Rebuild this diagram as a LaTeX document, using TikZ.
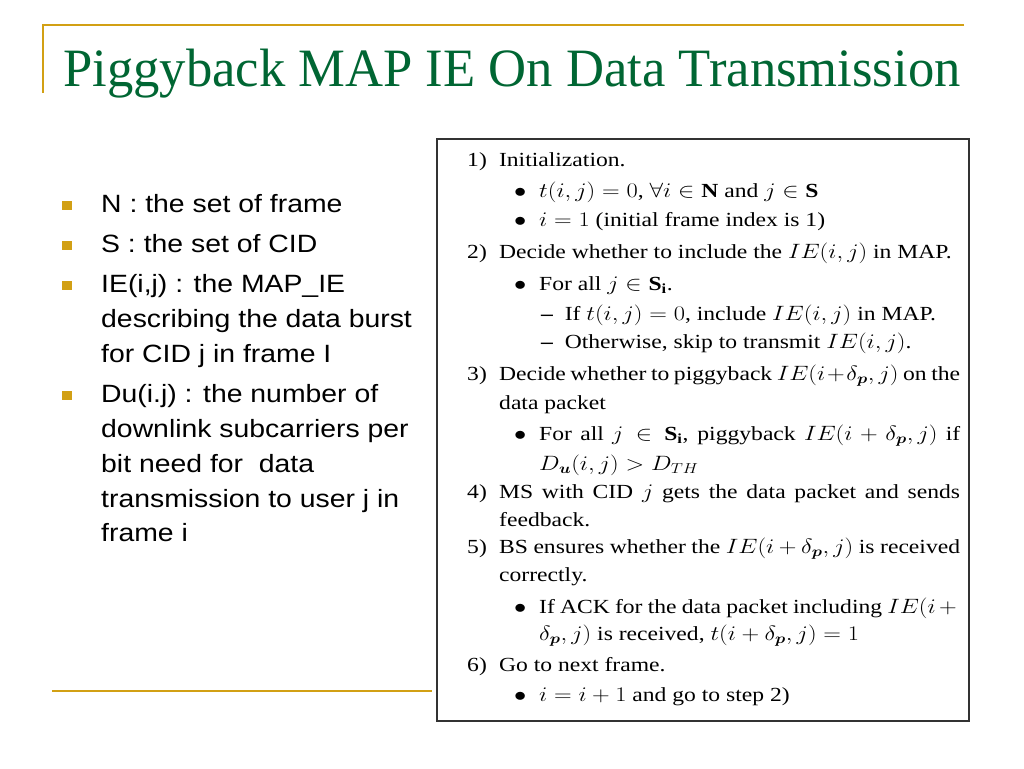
\documentclass[tikz,border=0pt]{standalone}
\usepackage{amsmath}
\usepackage{amssymb}
\usepackage{fontspec}
\usepackage{graphicx}
\setmainfont{Liberation Serif}
\newfontfamily\titlefont[FakeStretch=0.975]{Liberation Serif}
\newfontfamily\bulletfont[FakeStretch=1.135]{Liberation Sans}
\usepackage{tikz}
\usetikzlibrary{positioning}

\definecolor{gold}{RGB}{210,160,20}
\definecolor{titlegreen}{RGB}{0,102,51}
\definecolor{boxgray}{RGB}{50,50,50}

\newcommand{\scanline}[1]{\scalebox{1.18}[1]{#1}}
\newcommand{\numlab}[1]{\makebox[27pt][l]{#1}}
\newcommand{\bul}{\makebox[21.2pt][l]{$\bullet$}}
\newcommand{\dsh}{\makebox[20pt][l]{\textbf{--}}}
\newcommand{\fillto}[2]{\makebox[#1][s]{#2}}

\tikzset{
	goldrule/.style={draw=gold, line width=2pt},
	sq/.style={fill=gold, minimum size=9.5pt, inner sep=0pt},
	bulletline/.style={anchor=base west, inner sep=0pt, font=\bulletfont\fontsize{25}{30}\selectfont},
	boxline/.style={anchor=base west, inner sep=0pt, font=\fontsize{20}{24}\selectfont},
}

\begin{document}
\begin{tikzpicture}[x=1pt,y=-1pt]
	\useasboundingbox (0,0) rectangle (1024,768);
	\fill[white] (0,0) rectangle (1024,768);
	
	% frame rules
	\coordinate (tl) at (43,25.5);
	\coordinate (tr) at (964,25.5);
	\coordinate (tb) at (43,93);
	\coordinate (bl) at (52,691);
	\coordinate (br) at (432,691);
	\draw[goldrule] (tr) -- (tl) -- (tb);
	\draw[goldrule] (bl) -- (br);
	
	\node[anchor=base west, inner sep=0pt, text=titlegreen, font=\titlefont\fontsize{54}{60}\selectfont] (title) at (63,86.7) {Piggyback MAP IE On Data Transmission};
	
	% left bullets
	\node[sq] (s1) at (67,205.7) {};
	\node[sq] (s2) at (67,245.7) {};
	\node[sq] (s3) at (67,285.7) {};
	\node[sq] (s4) at (67,395.7) {};
	
	\node[bulletline] (n1) at (101,212) {N : the set of frame};
	\node[bulletline] (n2) at (101,252) {S : the set of CID};
	\node[bulletline] (n3) at (101,292) {IE(i,j) : the MAP\_IE};
	\node[bulletline] (n4) at (101,327) {describing the data burst};
	\node[bulletline] (n5) at (101,362) {for CID j in frame I};
	\node[bulletline] (n6) at (101,402) {Du(i.j) : the number of};
	\node[bulletline] (n7) at (101,437) {downlink subcarriers per};
	\node[bulletline] (n8) at (101,472) {bit need for\ \ data};
	\node[bulletline] (n9) at (101,507) {transmission to user j in};
	\node[bulletline] (n10) at (101,541) {frame i};
	
	% algorithm box
	\draw[boxgray, line width=1.6pt] (437,139) rectangle (969,721);
	
	\node[boxline] (a1) at (467,166) {\scanline{\numlab{1)}Initialization.}};
	\node[boxline] (a2) at (514,197) {\scanline{\bul$t(i,j)=0$, $\forall i\in\mathbf{N}$ and $j\in\mathbf{S}$}};
	\node[boxline] (a3) at (514,226) {\scanline{\bul$i=1$ (initial frame index is 1)}};
	\node[boxline] (a4) at (467,258) {\scanline{\numlab{2)}Decide whether to include the $IE(i,j)$ in MAP.}};
	\node[boxline] (a5) at (514,290) {\scanline{\bul For all $j\in\mathbf{S}_\mathbf{i}$.}};
	\node[boxline] (a6) at (541,320) {\scanline{\dsh If $t(i,j)=0$, include $IE(i,j)$ in MAP.}};
	\node[boxline] (a7) at (541,348) {\scanline{\dsh Otherwise, skip to transmit $IE(i,j)$.}};
	\node[boxline] (a8) at (467,380) {\scanline{\numlab{3)}\fillto{390.7pt}{Decide whether to piggyback $IE(i+\delta_{\boldsymbol{p}},j)$ on the}}};
	\node[boxline] (a9) at (499,409) {\scanline{data packet}};
	\node[boxline] (a10) at (514,440) {\scanline{\bul\fillto{356.8pt}{For all $j\in\mathbf{S}_\mathbf{i}$, piggyback $IE(i+\delta_{\boldsymbol{p}},j)$ if}}};
	\node[boxline] (a11) at (539,470) {\scanline{$D_{\boldsymbol{u}}(i,j)>D_{TH}$}};
	\node[boxline] (a12) at (467,498) {\scanline{\numlab{4)}\fillto{390.7pt}{MS with CID $j$ gets the data packet and sends}}};
	\node[boxline] (a13) at (499,526) {\scanline{feedback.}};
	\node[boxline] (a14) at (467,553) {\scanline{\numlab{5)}\fillto{390.7pt}{BS ensures whether the $IE(i+\delta_{\boldsymbol{p}},j)$ is received}}};
	\node[boxline] (a15) at (499,581) {\scanline{correctly.}};
	\node[boxline] (a16) at (514,613) {\scanline{\bul\fillto{356.8pt}{If ACK for the data packet including $IE(i+{}$}}};
	\node[boxline] (a17) at (539,640) {\scanline{$\delta_{\boldsymbol{p}},j)$ is received, $t(i+\delta_{\boldsymbol{p}},j)=1$}};
	\node[boxline] (a18) at (467,671) {\scanline{\numlab{6)}Go to next frame.}};
	\node[boxline] (a19) at (514,701) {\scanline{\bul$i=i+1$ and go to step 2)}};
\end{tikzpicture}
\end{document}
